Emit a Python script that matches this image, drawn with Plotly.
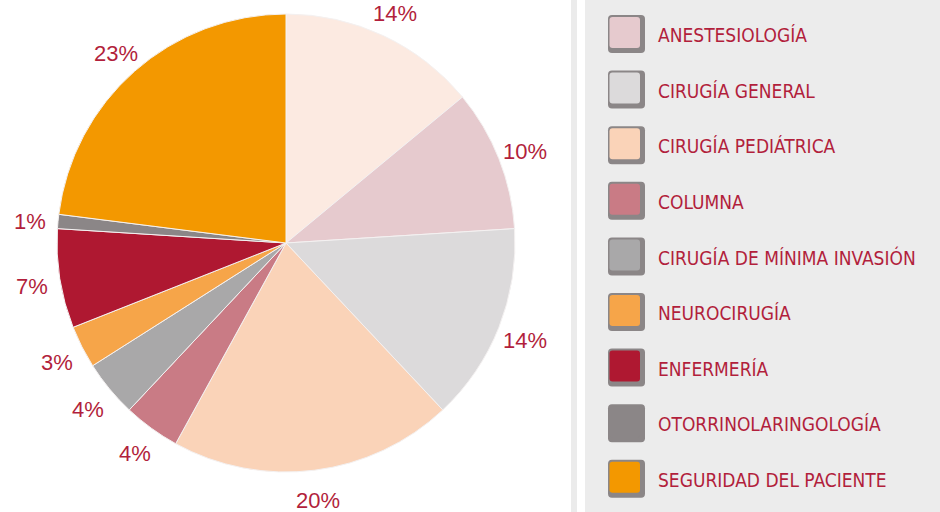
import math
import plotly.graph_objects as go

# ---- data ----
slice_labels = ["OTROS", "ANESTESIOLOGÍA", "CIRUGÍA GENERAL", "CIRUGÍA PEDIÁTRICA", "COLUMNA",
                "CIRUGÍA DE MÍNIMA INVASIÓN", "NEUROCIRUGÍA", "ENFERMERÍA",
                "OTORRINOLARINGOLOGÍA", "SEGURIDAD DEL PACIENTE"]
slice_values = [14, 10, 14, 20, 4, 4, 3, 7, 1, 23]
slice_colors = ["#FCEAE1", "#E6CACE", "#DCDADB", "#FAD3B8", "#C97B85",
                "#A9A8A9", "#F6A549", "#AF1831", "#8B8687", "#F39800"]
legend_labels = slice_labels[1:]
legend_colors = slice_colors[1:]

TEXT_COLOR = "#B21F3C"
W, H = 940, 512
CX, CY, R = 286, 243, 229      # pie centre / radius in pixels
LABEL_R = 257                  # radius of the percentage labels

fig = go.Figure()
fig.add_trace(go.Pie(
    labels=slice_labels,
    values=slice_values,
    marker=dict(colors=slice_colors, line=dict(color="#F4F1F1", width=1)),
    sort=False,
    direction="clockwise",
    rotation=0,
    textposition="none",
    showlegend=False,
    hoverinfo="label+percent",
    domain=dict(x=[(CX - R) / W, (CX + R) / W], y=[(H - CY - R) / H, (H - CY + R) / H]),
))

# hidden pixel axes for labels and the custom legend panel
fig.update_xaxes(range=[0, W], visible=False, fixedrange=True)
fig.update_yaxes(range=[H, 0], visible=False, fixedrange=True)

annotations = []
total = sum(slice_values)
cum = 0
for v in slice_values:
    mid = (cum + v / 2) / total * 2 * math.pi
    cum += v
    annotations.append(dict(
        x=CX + LABEL_R * math.sin(mid), y=CY - LABEL_R * math.cos(mid) + 3,
        xref="x", yref="y", text=f"{round(v / total * 100)}%", showarrow=False,
        xanchor="center", yanchor="middle",
        font=dict(family="Liberation Sans, Arial, sans-serif", size=22, color=TEXT_COLOR)))


def rrect(x0, y0, x1, y1, r):
    return (f"M{x0 + r},{y0} L{x1 - r},{y0} Q{x1},{y0} {x1},{y0 + r} "
            f"L{x1},{y1 - r} Q{x1},{y1} {x1 - r},{y1} L{x0 + r},{y1} "
            f"Q{x0},{y1} {x0},{y1 - r} L{x0},{y0 + r} Q{x0},{y0} {x0 + r},{y0} Z")


shapes = [
    dict(type="rect", xref="x", yref="y", x0=571, x1=577, y0=0, y1=H,
         fillcolor="#EBEBEB", line=dict(width=0), layer="below"),
    dict(type="rect", xref="x", yref="y", x0=585, x1=W, y0=0, y1=H,
         fillcolor="#ECECEC", line=dict(width=0), layer="below"),
]
row0, step = 34, 55.6
for i, (lab, col) in enumerate(zip(legend_labels, legend_colors)):
    c = row0 + i * step
    shapes.append(dict(type="path", xref="x", yref="y",
                       path=rrect(608, c - 19, 645, c + 19, 4),
                       fillcolor="#8B8687", line=dict(width=0), layer="below"))
    shapes.append(dict(type="path", xref="x", yref="y",
                       path=rrect(609.5, c - 17, 640, c + 14, 3),
                       fillcolor=col, line=dict(width=0), layer="below"))
    annotations.append(dict(x=656, y=c + 1, xref="x", yref="y", text=lab,
                            showarrow=False, xanchor="left", yanchor="middle",
                            font=dict(family="Liberation Sans Narrow, Arial Narrow, DejaVu Sans Condensed, sans-serif",
                                      size=19, color=TEXT_COLOR)))

fig.update_layout(
    width=W, height=H,
    margin=dict(l=0, r=0, t=0, b=0),
    paper_bgcolor="white", plot_bgcolor="rgba(0,0,0,0)",
    shapes=shapes, annotations=annotations,
    showlegend=False,
)

fig.write_html("out.html", config={"displayModeBar": False},
               post_script="document.body.style.margin='0px';document.body.style.padding='0px';")
